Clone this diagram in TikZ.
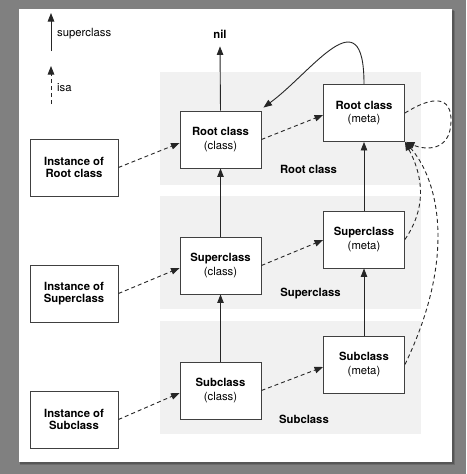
\documentclass[tikz,border=0pt]{standalone}
\usepackage{fontspec}
\setmainfont{TeX Gyre Heros}
\usetikzlibrary{arrows.meta,calc}
\definecolor{bandgray}{RGB}{241,241,241}
\definecolor{framegray}{RGB}{128,128,128}
\begin{document}
\begin{tikzpicture}[x=1pt,y=-1pt,
  box/.style={draw=black!75,line width=0.9pt,fill=white,minimum width=81pt,minimum height=57pt,
    align=center,font=\fontsize{11.3}{13.5}\selectfont,inner sep=0pt},
  ibox/.style={box,minimum width=88pt,font=\fontsize{11.3}{12.5}\selectfont\bfseries},
  band/.style={fill=bandgray,draw=none},
  sup/.style={line width=0.9pt,draw=black!85,-{Triangle[length=8.5pt,width=6.5pt]}},
  isa/.style={sup,dash pattern=on 4pt off 3pt},
  lbl/.style={font=\fontsize{11.3}{13}\selectfont\bfseries,inner sep=0pt},
  leg/.style={font=\fontsize{11.3}{13}\selectfont,inner sep=0pt,anchor=west},
]
\useasboundingbox (0,0) rectangle (466,474);
% frame
\fill[framegray] (0,0) rectangle (466,474);
\fill[black,opacity=0.15] (20,11) rectangle (455,465);
\fill[black,opacity=0.2] (20,10) rectangle (453.5,463.5);
\fill[white] (19,9) rectangle (452,462);
% bands
\fill[band] (160,72) rectangle (421,185);
\fill[band] (160,196) rectangle (421,309);
\fill[band] (160,321) rectangle (421,434);
\node[lbl] (lroot) at (308.5,169) {Root class};
\node[lbl] (lsuper) at (310.5,294) {Superclass};
\node[lbl] (lsub) at (304,419) {Subclass};
% legend
\coordinate (ls1) at (51,51);
\coordinate (le1) at (51,13);
\coordinate (ls2) at (51,104);
\coordinate (le2) at (51,66);
\draw[sup] (ls1) -- (le1);
\draw[isa] (ls2) -- (le2);
\node[leg] (tsup) at (57,34) {superclass};
\node[leg] (tisa) at (57,88) {isa};
% nodes
\node[lbl] (nil) at (220,34) {nil};
\node[box] (rc) at (220.5,139.5) {{\bfseries Root class}\\(class)};
\node[box] (rm) at (364,113) {{\bfseries Root class}\\(meta)};
\node[box] (sc) at (220.5,265.5) {{\bfseries Superclass}\\(class)};
\node[box] (sm) at (364,239.5) {{\bfseries Superclass}\\(meta)};
\node[box] (bc) at (220.5,390.5) {{\bfseries Subclass}\\(class)};
\node[box] (bm) at (364,364.5) {{\bfseries Subclass}\\(meta)};
\node[ibox] (ir) at (74,167.5) {Instance of\\Root class};
\node[ibox] (is) at (74,293.5) {Instance of\\Superclass};
\node[ibox] (ib) at (74,419.5) {Instance of\\Subclass};
% superclass arrows
\draw[sup] (rc.north) -- ($(nil.south)+(0,8)$);
\draw[sup] (sc.north) -- (rc.south);
\draw[sup] (bc.north) -- (sc.south);
\draw[sup] (sm.north) -- (rm.south);
\draw[sup] (bm.north) -- (sm.south);
\draw[sup] (rm.north) .. controls (364,-6) and (312,72) .. ($(rc.north east)+(2,-3)$);
% isa arrows
\draw[isa] (ir.east) -- ($(rc.west)+(0,3.5)$);
\draw[isa] (is.east) -- ($(sc.west)+(0,2.5)$);
\draw[isa] (ib.east) -- ($(bc.west)+(0,2.5)$);
\draw[isa] (rc.east) -- ($(rm.west)+(0,2)$);
\draw[isa] (sc.east) -- ($(sm.west)+(0,0.5)$);
\draw[isa] (bc.east) -- ($(bm.west)+(0,2.5)$);
\draw[isa] (rm.east) .. controls (432,96) and (452,95) .. (451,122)
  .. controls (450,152) and (425,150) .. ($(rm.south east)+(1,0)$);
\draw[isa] (sm.east) .. controls (425,210) and (425,180) .. (rm.south east);
\draw[isa] (bm.east) .. controls (460,250) and (435,175) .. (rm.south east);
\end{tikzpicture}
\end{document}
